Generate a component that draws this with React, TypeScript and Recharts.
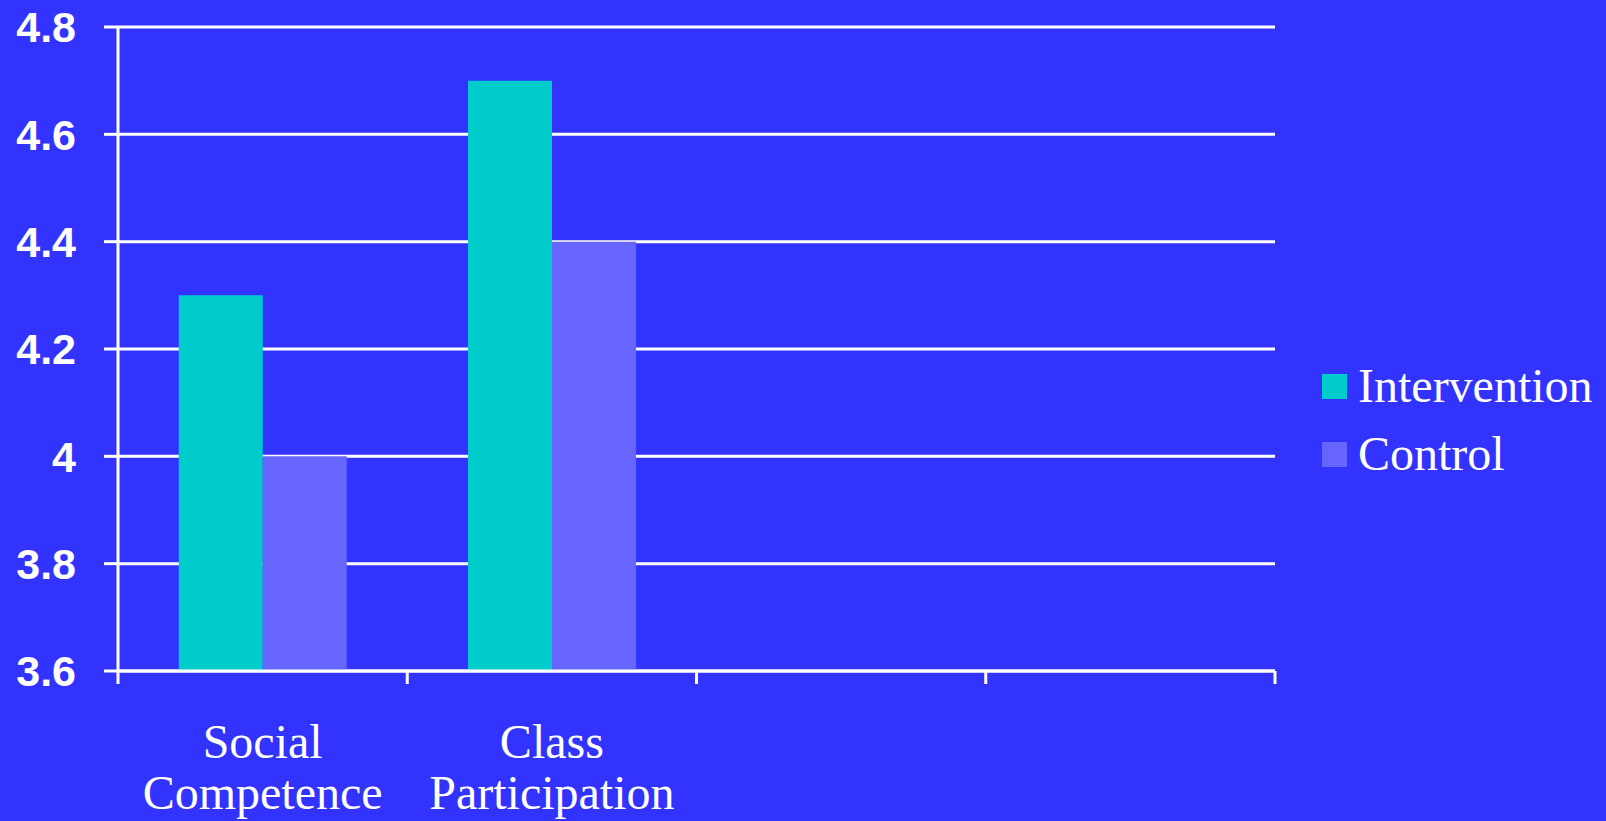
import { Bar, BarChart, CartesianGrid, Legend, XAxis, YAxis } from "recharts";

const categories = ["Social Competence", "Class Participation", "", ""];
const intervention = [4.3, 4.7, null, null];
const control = [4.0, 4.4, null, null];
const yTicks = [3.6, 3.8, 4, 4.2, 4.4, 4.6, 4.8];
const seriesOrder = ["Intervention", "Control"];

const BG = "#3333FF";
const X_TICK_MARGIN = 87;

const data = categories.map((name, i) => ({
  name,
  Intervention: intervention[i],
  Control: control[i],
}));

function CategoryTick(props: any) {
  const { x, y, payload, index, visibleTicksCount, width } = props;
  const half = width / visibleTicksCount / 2;
  const axisY = y - X_TICK_MARGIN;
  const lines = String(payload.value).split(" ").filter(Boolean);
  return (
    <g>
      <line x1={x - half} x2={x - half} y1={axisY} y2={axisY + 13} stroke="#fff" strokeWidth={3} />
      {index === visibleTicksCount - 1 && (
        <line x1={x + half} x2={x + half} y1={axisY} y2={axisY + 13} stroke="#fff" strokeWidth={3} />
      )}
      <text textAnchor="middle" fill="#fff" fontSize={48} fontFamily="'Liberation Serif', serif">
        {lines.map((l, i) => (
          <tspan key={i} x={x} y={y + i * 51}>
            {l}
          </tspan>
        ))}
      </text>
    </g>
  );
}

function LegendBox(props: any) {
  const items = [...props.payload].sort(
    (a: any, b: any) => seriesOrder.indexOf(a.value) - seriesOrder.indexOf(b.value)
  );
  return (
    <div>
      {items.map((p: any) => (
        <div key={p.value} style={{ display: "flex", alignItems: "center", height: 68 }}>
          <span style={{ width: 25, height: 25, background: p.color, marginRight: 11 }} />
          <span
            style={{
              color: "#fff",
              fontSize: 48,
              lineHeight: "68px",
              fontFamily: "'Liberation Serif', serif",
            }}
          >
            {p.value}
          </span>
        </div>
      ))}
    </div>
  );
}

export default function App() {
  return (
    <div style={{ position: "absolute", left: 0, top: 0, width: 1606, height: 821, background: BG }}>
      <BarChart
        width={1606}
        height={821}
        data={data}
        margin={{ top: 27, right: 331, bottom: 0, left: 0 }}
        barCategoryGap="21%"
        barGap={0}
      >
        <CartesianGrid vertical={false} stroke="#fff" strokeWidth={3} />
        <XAxis
          dataKey="name"
          height={150}
          axisLine={{ stroke: "#fff", strokeWidth: 3 }}
          tickLine={false}
          tickSize={0}
          tickMargin={X_TICK_MARGIN}
          interval={0}
          tick={<CategoryTick />}
        />
        <YAxis
          width={118}
          domain={[3.6, 4.8]}
          ticks={yTicks}
          axisLine={{ stroke: "#fff", strokeWidth: 3 }}
          tickLine={{ stroke: "#fff", strokeWidth: 3 }}
          tickSize={14}
          tickMargin={28}
          tick={{ fill: "#fff", fontSize: 43, fontWeight: "bold", fontFamily: "'Liberation Sans', sans-serif" }}
        />
        <Legend
          layout="vertical"
          align="center"
          verticalAlign="middle"
          wrapperStyle={{ left: 1322, top: 352, width: 284 }}
          content={<LegendBox />}
        />
        <Bar dataKey="Intervention" fill="#00CCCC" isAnimationActive={false} />
        <Bar dataKey="Control" fill="#6666FF" isAnimationActive={false} />
      </BarChart>
    </div>
  );
}
